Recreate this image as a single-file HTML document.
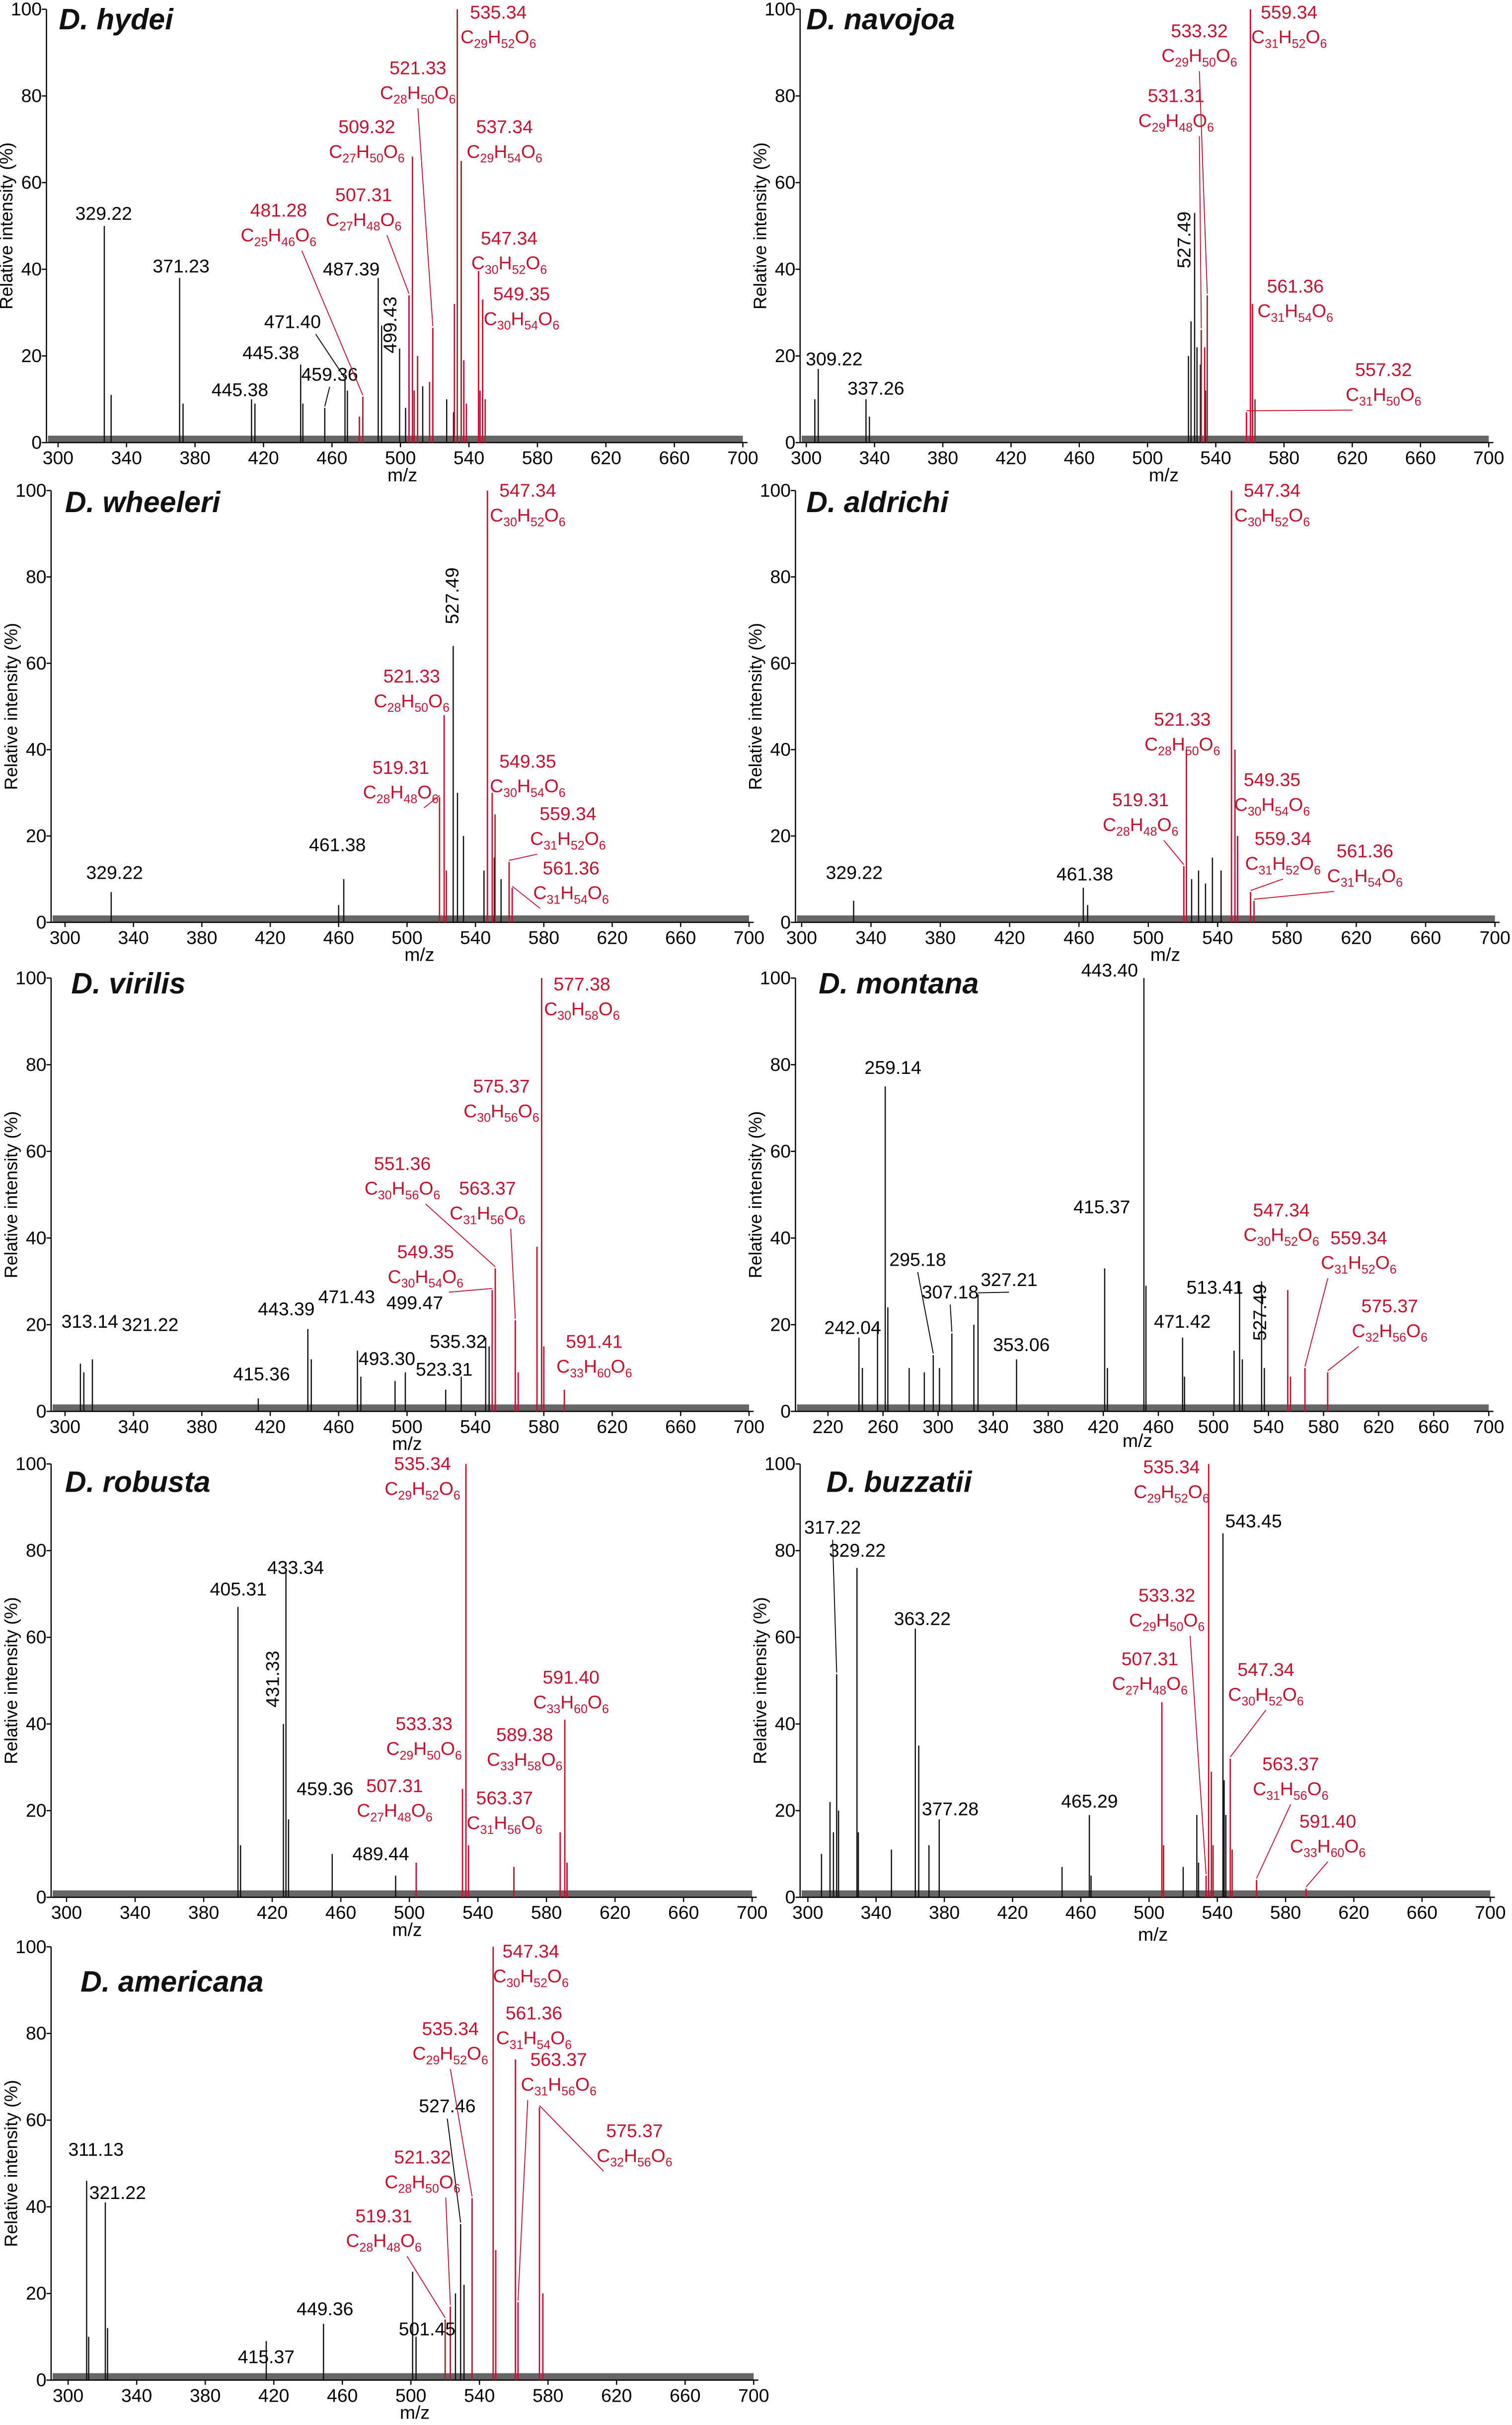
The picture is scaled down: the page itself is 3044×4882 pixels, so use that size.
<!DOCTYPE html>
<html><head><meta charset="utf-8"><style>
html,body{margin:0;padding:0;background:#fff;}
svg{display:block;}
text{font-family:"Liberation Sans Narrow","Liberation Sans",sans-serif;}
.t{font-family:"Liberation Sans",sans-serif;font-weight:bold;font-style:italic;font-size:19px;}
</style></head><body>
<svg id="fig" width="3044" height="4882" viewBox="0 0 977 1567" xmlns="http://www.w3.org/2000/svg"></svg>
<script>
// ---------- data: peak m/z positions, intensities (%), red flags ----------
const hydeiMz=[327,331,371,373,413,415,441.7,443,455.8,467.6,469,487,489,499.5,503,513,527,531,478,476,505,507,508,510,518.9,517,533.2,531.5,535.5,537,538.5,545.6,548,546.5,549.5];
const hydeiInt=[50,11,38,9,10,9,18,9,8,14.5,12,38,27,21.7,8,13,10,7,10.6,6,34,66,12,20,26.5,14,100,32,65,19,9,39.6,33,12,10];
const hydeiRed=[0,0,0,0,0,0,0,0,0,0,0,0,0,0,0,0,0,0,1,1,1,1,1,1,1,1,1,1,1,1,1,1,1,1,1];

const navojoaMz=[305,307,335,337,524,525.5,527.6,529,531,534,531.5,533.5,535,558,560.3,561.5,563];
const navojoaInt=[10,17,10,6,20,28,53,22,18,12,26,22,34,7,100,32,10];
const navojoaRed=[0,0,0,0,0,0,0,0,0,0,1,1,1,1,1,1,1];

const wheeleriMz=[327,463,460,527,529.5,533,545,551,555,519,521.7,523,547,549.8,551.5,559.7,561.5];
const wheeleriInt=[7,10,4,64,30,20,12,15,10,29,48,12,100,30,25,14,8];
const wheeleriRed=[0,0,0,0,0,0,0,0,0,1,1,1,1,1,1,1,1];

const aldrichiMz=[330,462.5,465,525,529,533,537,542,520.5,522,548,550,551.5,559,561];
const aldrichiInt=[5,8,4,10,12,9,15,12,13,40,100,40,20,7,5];
const aldrichiRed=[0,0,0,0,0,0,0,0,1,1,1,1,1,1,1];

const virilisMz=[309,311,316,413,442,444,471,473,493,499,522.6,531.7,546,548,549.8,551.6,563.3,565,576,578.7,580,592];
const virilisInt=[11,9,12,3,19,12,14,8,7,9,5,8,17,15,28,33,21,9,38,100,15,5];
const virilisRed=[0,0,0,0,0,0,0,0,0,0,0,0,0,0,1,1,1,1,1,1,1,1];

const montanaMz=[242.5,245,256,261.6,263.5,279,290,296.5,301,310,326,329,357,421,423,449.5,451,477.6,479,515,519,521,535,537,554,556,566.5,583];
const montanaInt=[17,10,20,75,24,10,9,13,10,18,20,27,12,33,10,100,29,17,8,14,30,12,30,10,28,8,10,9];
const montanaRed=[0,0,0,0,0,0,0,0,0,0,0,0,0,0,0,0,0,0,0,0,0,0,0,0,1,1,1,1];

const robustaMz=[400,401.5,426.5,428,429.5,455,492,504,531,533,534.5,561,588,590.7,592];
const robustaInt=[67,12,40,75,18,10,5,8,25,100,12,7,15,41,8];
const robustaRed=[0,0,0,0,0,0,0,1,1,1,1,1,1,1,1];

const buzzatiiMz=[308,313,315,316.9,318,328.8,329.6,349,363,365,371,377,449,465,466,520,528,529,543.3,544,545,507.5,508.5,533.4,534.9,536.5,537.5,547.6,548.7,563,592];
const buzzatiiInt=[10,22,15,51.5,20,76,15,11,62,35,12,18,7,19,5,7,19,8,84,27,19,45,12,5,100,29,12,32,11,4,2];
const buzzatiiRed=[0,0,0,0,0,0,0,0,0,0,0,0,0,0,0,0,0,0,0,0,0,1,1,1,1,1,1,1,1,1,1];

const americanaMz=[310.8,312,321.7,323,415.6,449,501,503,526,529,531,520,523,535.7,548,549.5,561,562.5,575,577];
const americanaInt=[46,10,41,12,9,13,25,10,20,36,22,14,17,42,100,30,74,18,63,20];
const americanaRed=[0,0,0,0,0,0,0,0,0,0,0,1,1,1,1,1,1,1,1,1];

// label texts and formulas
const hydeiTxt=["329.22","371.23","445.38","445.38","471.40","459.36","487.39","499.43","481.28","507.31","509.32","521.33","535.34","537.34","547.34","549.35"];
const hydeiF=["","","","","","","","","C25H46O6","C27H48O6","C27H50O6","C28H50O6","C29H52O6","C29H54O6","C30H52O6","C30H54O6"];
const navojoaTxt=["309.22","337.26","527.49","533.32","531.31","559.34","561.36","557.32"];
const navojoaF=["","","","C29H50O6","C29H48O6","C31H52O6","C31H54O6","C31H50O6"];
const wheeleriTxt=["329.22","461.38","527.49","521.33","519.31","547.34","549.35","559.34","561.36"];
const wheeleriF=["","","","C28H50O6","C28H48O6","C30H52O6","C30H54O6","C31H52O6","C31H54O6"];
const aldrichiTxt=["329.22","461.38","521.33","519.31","547.34","549.35","559.34","561.36"];
const aldrichiF=["","","C28H50O6","C28H48O6","C30H52O6","C30H54O6","C31H52O6","C31H54O6"];
const virilisTxt=["313.14","321.22","415.36","443.39","471.43","493.30","499.47","523.31","535.32","549.35","551.36","563.37","575.37","577.38","591.41"];
const virilisF=["","","","","","","","","","C30H54O6","C30H56O6","C31H56O6","C30H56O6","C30H58O6","C33H60O6"];
const montanaTxt=["242.04","259.14","295.18","307.18","327.21","353.06","415.37","443.40","471.42","513.41","527.49","547.34","559.34","575.37"];
const montanaF=["","","","","","","","","","","","C30H52O6","C31H52O6","C32H56O6"];
const robustaTxt=["405.31","433.34","431.33","459.36","489.44","507.31","533.33","535.34","563.37","589.38","591.40"];
const robustaF=["","","","","","C27H48O6","C29H50O6","C29H52O6","C31H56O6","C33H58O6","C33H60O6"];
const buzzatiiTxt=["317.22","329.22","363.22","377.28","465.29","543.45","535.34","533.32","507.31","547.34","563.37","591.40"];
const buzzatiiF=["","","","","","","C29H52O6","C29H50O6","C27H48O6","C30H52O6","C31H56O6","C33H60O6"];
const americanaTxt=["311.13","321.22","415.37","449.36","501.45","527.46","535.34","521.32","519.31","547.34","561.36","563.37","575.37"];
const americanaF=["","","","","","","C29H52O6","C28H50O6","C28H48O6","C30H52O6","C31H54O6","C31H56O6","C32H56O6"];

// ---------- layout (positions, not data): [x, y, peakIndex, leader(0/1), rotated(0/1)] ----------
const hydeiPos=[[67,142,0,0,0],[117,176,2,0,0],[155,256,4,0,0],[175,232,6,0,0],[189,212,9,1,0],[213,246,8,1,0],[227,178,11,0,0],[253,210,13,0,1],[180,140,18,1,0],[235,130,20,1,0],[237,86,21,0,0],[270,48,24,1,0],[322,12,26,0,0],[326,86,28,0,0],[329,158,31,0,0],[337,194,32,0,0]];
const navojoaPos=[[539,236,1,0,0],[566,255,2,0,0],[766,155,6,0,1],[775,24,12,1,0],[760,66,10,1,0],[833,12,14,0,0],[837,189,15,0,0],[894,243,13,1,0]];
const wheeleriPos=[[74,568,0,0,0],[218,550,1,0,0],[293,385,3,0,1],[266,441,10,0,0],[259,500,9,1,0],[341,321,12,0,0],[341,496,13,0,0],[367,530,15,1,0],[369,565,16,1,0]];
const aldrichiPos=[[552,568,0,0,0],[701,569,1,0,0],[764,469,9,0,0],[737,521,8,1,0],[822,321,10,0,0],[822,508,11,0,0],[829,546,13,1,0],[882,554,14,1,0]];
const virilisPos=[[58,858,0,0,0],[97,860,2,0,0],[169,892,3,0,0],[185,850,4,0,0],[224,842,6,0,0],[250,882,8,0,0],[268,846,9,0,0],[287,889,10,0,0],[296,871,11,0,0],[275,813,14,1,0],[260,756,15,1,0],[315,772,16,1,0],[324,706,18,0,0],[376,640,19,0,0],[384,871,21,0,0]];
const montanaPos=[[551,862,0,0,0],[577,694,3,0,0],[593,818,7,1,0],[614,839,9,1,0],[652,831,11,1,0],[660,873,12,0,0],[712,784,13,0,0],[717,631,15,0,0],[764,858,17,0,0],[785,836,19,0,0],[815,848,22,0,1],[828,786,24,0,0],[878,804,26,1,0],[898,848,27,1,0]];
const robustaPos=[[154,1031,0,0,0],[191,1017,3,0,0],[177,1085,2,0,1],[210,1160,5,0,0],[246,1202,6,0,0],[255,1158,7,0,0],[274,1118,8,0,0],[273,950,9,0,0],[326,1166,11,0,0],[339,1125,12,0,0],[369,1088,13,0,0]];
const buzzatiiPos=[[538,991,3,1,0],[554,1006,5,0,0],[596,1050,8,0,0],[614,1173,11,0,0],[704,1168,13,0,0],[810,987,18,0,0],[757,952,24,0,0],[754,1035,23,1,0],[743,1076,21,0,0],[818,1083,27,1,0],[834,1144,29,1,0],[858,1181,30,1,0]];
const americanaPos=[[62,1393,0,0,0],[76,1421,2,0,0],[172,1527,4,0,0],[210,1496,5,0,0],[276,1509,6,0,0],[289,1365,9,1,0],[291,1315,13,1,0],[273,1398,12,1,0],[248,1436,11,1,0],[343,1265,14,0,0],[345,1305,16,0,0],[361,1335,17,1,0],[410,1381,18,1,0]];

const panels=[
 {key:'hydei',title:'D. hydei',ax:30,px0:37.5,px1:480,m0:300,m1:700,yb:286,yt:6,tx:38,ty:19,mz:[260,311],mzData:[hydeiMz,hydeiInt,hydeiRed],txt:hydeiTxt,f:hydeiF,pos:hydeiPos},
 {key:'navojoa',title:'D. navojoa',ax:517,px0:521,px1:962,m0:300,m1:700,yb:286,yt:6,tx:521,ty:19,mz:[752,311],mzData:[navojoaMz,navojoaInt,navojoaRed],txt:navojoaTxt,f:navojoaF,pos:navojoaPos},
 {key:'wheeleri',title:'D. wheeleri',ax:33,px0:42,px1:484,m0:300,m1:700,yb:596,yt:317,tx:42,ty:331,mz:[271,621],mzData:[wheeleriMz,wheeleriInt,wheeleriRed],txt:wheeleriTxt,f:wheeleriF,pos:wheeleriPos},
 {key:'aldrichi',title:'D. aldrichi',ax:514,px0:518,px1:966,m0:300,m1:700,yb:596,yt:317,tx:521,ty:331,mz:[753,621],mzData:[aldrichiMz,aldrichiInt,aldrichiRed],txt:aldrichiTxt,f:aldrichiF,pos:aldrichiPos},
 {key:'virilis',title:'D. virilis',ax:33,px0:42,px1:484,m0:300,m1:700,yb:912,yt:632,tx:46,ty:642,mz:[263,937],mzData:[virilisMz,virilisInt,virilisRed],txt:virilisTxt,f:virilisF,pos:virilisPos},
 {key:'montana',title:'D. montana',ax:514,px0:535,px1:962,m0:220,m1:700,yb:912,yt:632,tx:529,ty:642,mz:[735,935],mzData:[montanaMz,montanaInt,montanaRed],txt:montanaTxt,f:montanaF,pos:montanaPos},
 {key:'robusta',title:'D. robusta',ax:33,px0:43,px1:486,m0:300,m1:700,yb:1226,yt:946,tx:42,ty:964,mz:[263,1251],mzData:[robustaMz,robustaInt,robustaRed],txt:robustaTxt,f:robustaF,pos:robustaPos},
 {key:'buzzatii',title:'D. buzzatii',ax:517,px0:522,px1:963,m0:300,m1:700,yb:1226,yt:946,tx:534,ty:964,mz:[745,1254],mzData:[buzzatiiMz,buzzatiiInt,buzzatiiRed],txt:buzzatiiTxt,f:buzzatiiF,pos:buzzatiiPos},
 {key:'americana',title:'D. americana',ax:33,px0:44,px1:487,m0:300,m1:700,yb:1538,yt:1258,tx:52,ty:1287,mz:[268,1563],mzData:[americanaMz,americanaInt,americanaRed],txt:americanaTxt,f:americanaF,pos:americanaPos}
];

const NS='http://www.w3.org/2000/svg';
const RED='#c8102e';
const svg=document.getElementById('fig');
function mk(tag,attrs,parent){const e=document.createElementNS(NS,tag);for(const k in attrs)e.setAttribute(k,attrs[k]);parent.appendChild(e);return e;}

function formula(parent,str,x,y){
  const t=mk('text',{x:x,y:y,'text-anchor':'middle','font-size':12,fill:RED},parent);
  
  
  const parts=str.match(/[A-Z][a-z]?|\d+/g);
  parts.forEach(p=>{
    const s=mk('tspan',{},t);
    if(/\d/.test(p)){s.setAttribute('font-size',8);s.setAttribute('dy',3);}
    else{s.setAttribute('dy',t.childNodes.length>1?-3:0);}
    s.textContent=p;
  });
}

panels.forEach(P=>{
  const g=mk('g',{},svg);
  
  
  const xs=m=>P.px0+(m-P.m0)*(P.px1-P.px0)/(P.m1-P.m0);
  const ys=v=>P.yb-(P.yb-P.yt)*v/100;
  // baseline noise band (decorative)
  const band=mk('rect',{x:P.ax+1,y:ys(1.6),width:P.px1-P.ax-1,height:ys(0)-ys(1.6),fill:'#333',opacity:0.75},g);
  
  
  // axes
  const yax=mk('line',{x1:P.ax,y1:P.yt,x2:P.ax,y2:P.yb,stroke:'#000','stroke-width':0.8},g);
  
  
  const xax=mk('line',{x1:P.ax,y1:P.yb,x2:P.px1+3,y2:P.yb,stroke:'#000','stroke-width':0.8},g);
  
  
  for(let v=0;v<=100;v+=20){
    mk('line',{x1:P.ax-3,y1:ys(v),x2:P.ax,y2:ys(v),stroke:'#000','stroke-width':0.8},g);
    const tl=mk('text',{x:P.ax-3,y:ys(v)+4,'text-anchor':'end','font-size':12,fill:'#000'},g);
    
    
    tl.textContent=v;
  }
  for(let m=P.m0;m<=P.m1;m+=40){
    mk('line',{x1:xs(m),y1:P.yb,x2:xs(m),y2:P.yb+3,stroke:'#000','stroke-width':0.8},g);
    const tl=mk('text',{x:xs(m),y:P.yb+14,'text-anchor':'middle','font-size':12,fill:'#000'},g);
    
    
    tl.textContent=m;
  }
  const yl=mk('text',{x:0,y:0,'text-anchor':'middle','font-size':11.5,fill:'#000',transform:`translate(${P.ax-22},${(P.yt+P.yb)/2}) rotate(-90)`,style:'font-family:"Liberation Sans",sans-serif'},g);
  
  
  yl.textContent='Relative intensity (%)';
  const xl=mk('text',{x:P.mz[0],y:P.mz[1],'text-anchor':'middle','font-size':12,fill:'#000'},g);
  
  
  xl.textContent='m/z';
  const ti=mk('text',{x:P.tx,y:P.ty,class:'t',fill:'#111'},g);
  
  
  ti.textContent=P.title;
  // peaks
  const [mzA,inA,rdA]=P.mzData;
  mzA.forEach((m,i)=>{
    const l=mk('line',{x1:xs(m),y1:ys(0),x2:xs(m),y2:ys(inA[i]),stroke:rdA[i]?RED:'#111','stroke-width':rdA[i]?0.9:0.8},g);
    
    
  });
  // labels
  P.txt.forEach((s,i)=>{
    const [lx,ly,pi,lead,rot]=P.pos[i];
    const red=P.f[i]!=='';
    const col=red?RED:'#000';
    const t=mk('text',{x:lx,y:ly,'text-anchor':'middle','font-size':12,fill:col},g);
    if(rot){t.setAttribute('transform',`rotate(-90 ${lx} ${ly})`);t.setAttribute('dominant-baseline','middle');t.setAttribute('style','font-family:"Liberation Sans",sans-serif');}
    
    
    t.textContent=s;
    let by=ly+4;
    if(red){formula(g,P.f[i],lx,ly+16);by=ly+22;}
    if(lead){
      const px=xs(mzA[pi]),py=ys(inA[pi]);
      const sx=px>lx+15?lx+15:(px<lx-25?lx-20:lx);
      const ld=mk('line',{x1:sx,y1:by,x2:px,y2:py-1,stroke:col,'stroke-width':0.6},g);
      
      
    }
  });
});
</script>
</body></html>
